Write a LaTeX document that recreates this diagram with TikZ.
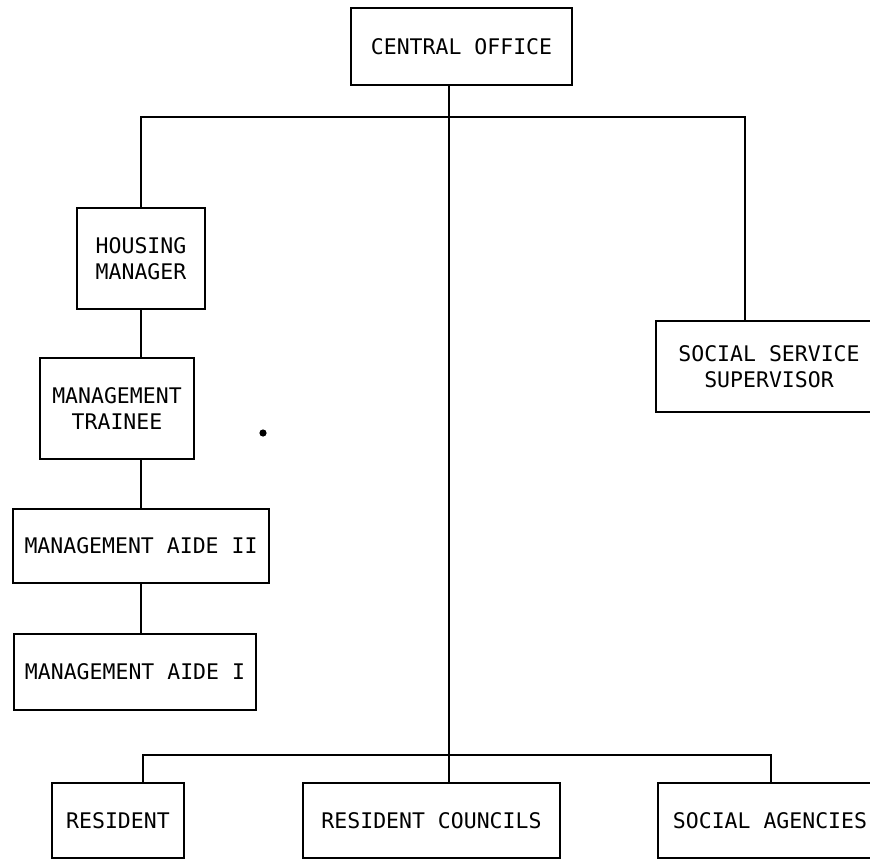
\documentclass[tikz,border=0pt]{standalone}
\usepackage{fontspec}
\setmonofont{DejaVu Sans Mono}
\begin{document}
\begin{tikzpicture}[x=1pt,y=-1pt,
  box/.style={draw, line width=2.8pt, align=center, inner sep=0pt,
    font=\ttfamily\fontsize{21.5}{25.5}\selectfont},
  link/.style={line width=2.8pt, line cap=rect}]
\useasboundingbox (0,0) rectangle (870,859);
\fill[white] (0,0) rectangle (870,859);
\clip (0,0) rectangle (870,859);

% top of the chart
\node[box, minimum width=221pt, minimum height=77pt] (central) at (461.5,46.5) {CENTRAL OFFICE};

% housing management line
\node[box, minimum width=128pt, minimum height=101pt] (hm) at (141,258.5) {HOUSING\\MANAGER};
\node[box, minimum width=154pt, minimum height=101pt] (mt) at (117,408.5) {MANAGEMENT\\TRAINEE};
\node[box, minimum width=256pt, minimum height=74pt] (ma2) at (141,546) {MANAGEMENT AIDE II};
\node[box, minimum width=242pt, minimum height=76pt] (ma1) at (135,672) {MANAGEMENT AIDE I};

% social service line
\node[box, minimum width=226pt, minimum height=91pt] (ss) at (769,366.5) {SOCIAL SERVICE\\SUPERVISOR};

% bottom row
\node[box, minimum width=132pt, minimum height=75pt] (res) at (118,820.5) {RESIDENT};
\node[box, minimum width=257pt, minimum height=75pt] (rc) at (431.5,820.5) {RESIDENT COUNCILS};
\node[box, minimum width=224pt, minimum height=75pt] (sa) at (770,820.5) {SOCIAL AGENCIES};

% routing guides
\coordinate (topbar) at (0,117);
\coordinate (lowbar) at (0,755);
\coordinate (trunk) at (449,0);
\coordinate (ssdrop) at (745,0);
\coordinate (resdrop) at (143,0);
\coordinate (sadrop) at (771,0);

% connectors
\draw[link] (central.south -| trunk) -- (rc.north -| trunk);
\draw[link] (hm.north) -- (hm.north |- topbar) -- (ssdrop |- topbar) -- (ssdrop |- ss.north);
\draw[link] (hm.south) -- (hm.south |- mt.north);
\draw[link] (hm.south |- mt.south) -- (hm.south |- ma2.north);
\draw[link] (ma2.south) -- (ma2.south |- ma1.north);
\draw[link] (resdrop |- res.north) -- (resdrop |- lowbar) -- (sadrop |- lowbar) -- (sadrop |- sa.north);

% stray mark
\fill (263,433) circle (3.6pt);
\end{tikzpicture}
\end{document}
